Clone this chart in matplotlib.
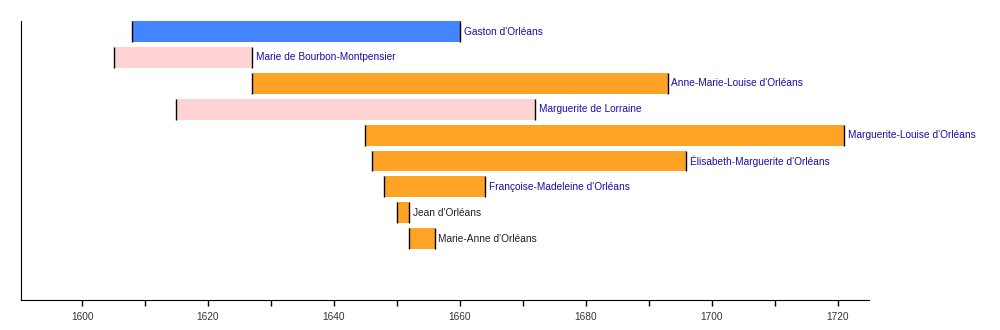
import matplotlib
matplotlib.use("Agg")
import matplotlib.pyplot as plt

# Timeline of the house of Orléans (Gaston d'Orléans' family)
names = [
    "Gaston d'Orléans",
    "Marie de Bourbon-Montpensier",
    "Anne-Marie-Louise d'Orléans",
    "Marguerite de Lorraine",
    "Marguerite-Louise d'Orléans",
    "Élisabeth-Marguerite d'Orléans",
    "Françoise-Madeleine d'Orléans",
    "Jean d'Orléans",
    "Marie-Anne d'Orléans",
]
born = [1608, 1605, 1627, 1615, 1645, 1646, 1648, 1650, 1652]
died = [1660, 1627, 1693, 1672, 1721, 1696, 1664, 1652, 1656]
kind = ["self", "spouse", "child", "spouse", "child", "child", "child", "child", "child"]
linked = [True, True, True, True, True, True, True, False, False]

colors = {"self": "#4384ff", "spouse": "#ffd3d3", "child": "#ffa326"}

fig, ax = plt.subplots(figsize=(10, 3.3), dpi=100)
fig.subplots_adjust(left=0.021, right=0.869, top=0.936, bottom=0.091)

for i in range(len(names)):
    ax.barh(i, died[i] - born[i], left=born[i], height=0.81,
            color=colors[kind[i]], edgecolor="none")
    ax.vlines([born[i], died[i]], i - 0.405, i + 0.405, color="black", lw=1)
    ax.text(died[i] + 0.6, i, names[i], va="center", ha="left",
            fontsize=7.3, family="Liberation Sans",
            color="#1a0dab" if linked[i] else "#222222")

ax.set_xlim(1590.3, 1725)
ax.set_ylim(10.37, -0.405)
ax.set_xticks(range(1600, 1721, 20))
ax.set_xticks(range(1610, 1721, 20), minor=True)
ax.tick_params(axis="x", which="both", length=4, width=1, colors="black",
               labelsize=7.3, labelcolor="#333333", pad=5)
ax.set_yticks([])
for lab in ax.get_xticklabels():
    lab.set_family("Liberation Sans")
ax.spines["top"].set_visible(False)
ax.spines["right"].set_visible(False)

plt.savefig("out.png")
plt.close()
